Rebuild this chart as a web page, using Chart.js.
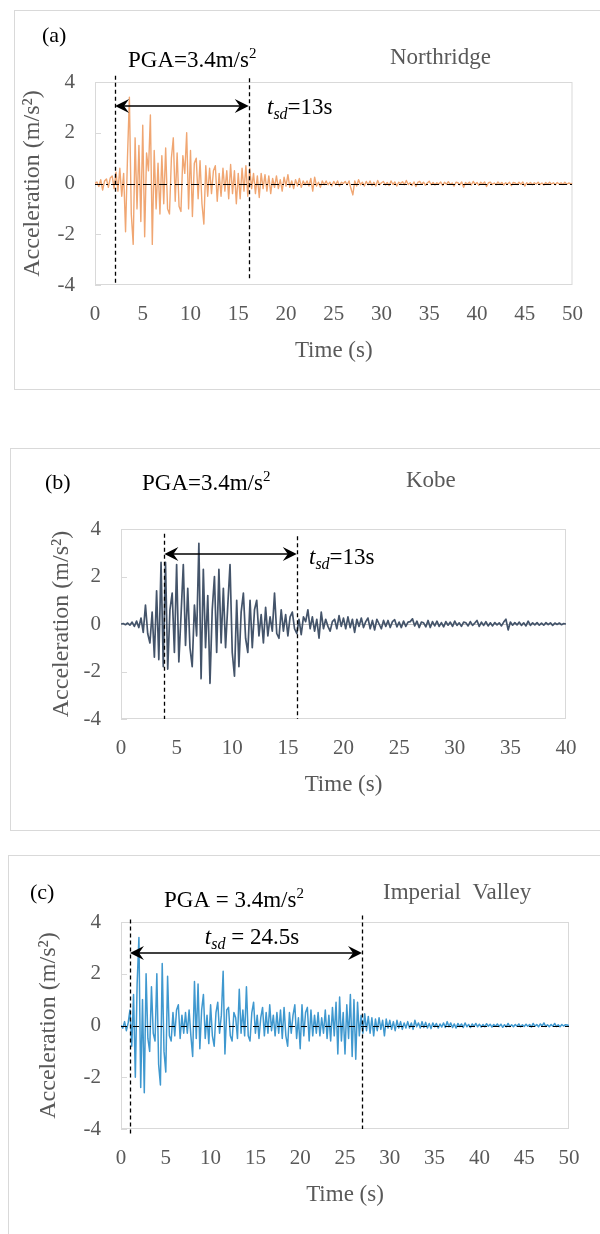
<!DOCTYPE html>
<html>
<head>
<meta charset="utf-8">
<script src="https://cdn.jsdelivr.net/npm/chart.js@4.4.0/dist/chart.umd.min.js"></script>
<style>
  body { margin: 0; background: #fff; width: 600px; height: 1234px; overflow: hidden; position: relative; }
  .frame { position: absolute; border: 1.5px solid #d9d9d9; box-sizing: border-box; }
  canvas { position: absolute; left: 0; }
</style>
</head>
<body>
<div class="frame" style="left:14px;top:10px;width:620px;height:380px"></div>
<div class="frame" style="left:10px;top:448px;width:620px;height:383px"></div>
<div class="frame" style="left:8px;top:855px;width:620px;height:420px"></div>
<canvas id="chartA" width="600" height="400" style="top:0"></canvas>
<canvas id="chartB" width="600" height="440" style="top:400px"></canvas>
<canvas id="chartC" width="600" height="394" style="top:840px"></canvas>
<script>
// sample spacing of the records (s)
const DT = 0.2;

// Northridge, 0-50 s, m/s^2
const northridgeAcc = [
  0.00, 0.06, -0.12, 0.15, -0.26, 0.10, 0.18, -0.15, 0.22, 0.30,
  -0.20, 0.45, -0.30, 0.60, -0.50, 0.40, -1.90, 1.00, 3.40, -1.20,
  -2.40, 1.80, -1.00, 1.50, -1.50, 2.30, -2.10, 1.20, 0.50, 2.70,
  -2.40, 1.30, -1.00, 0.80, -1.20, 1.10, -0.80, 1.40, -1.00, -1.20,
  1.00, 1.80, -0.70, 1.20, -0.90, -1.10, 1.10, 0.40, 2.00, -1.00,
  1.30, -1.30, 0.80, 1.00, -0.60, 0.90, -0.80, -1.60, 0.70, -0.50,
  0.60, -0.40, 0.50, 0.70, -0.70, 0.40, -0.50, 0.60, -0.30, 0.50,
  -0.60, 0.75, -0.40, 0.50, -0.80, 0.40, -0.60, 0.60, -0.30, 0.70,
  -0.50, 0.60, -0.20, 0.40, -0.40, 0.30, -0.55, 0.40, -0.20, 0.35,
  -0.30, 0.30, -0.40, 0.20, -0.15, 0.30, -0.20, 0.15, -0.30, 0.25,
  -0.10, 0.35, -0.15, 0.10, -0.20, 0.15, -0.10, 0.20, -0.15, 0.10,
  -0.05, 0.10, -0.10, 0.20, -0.30, 0.25, -0.10, 0.05, -0.15, 0.10,
  -0.05, 0.10, -0.05, 0.05, -0.10, 0.08, -0.05, 0.10, -0.10, 0.05,
  0.00, 0.08, -0.05, 0.10, -0.20, -0.45, 0.10, -0.10, 0.15, -0.05,
  0.05, -0.10, 0.08, -0.05, 0.10, -0.08, 0.05, -0.10, 0.12, -0.05,
  0.03, 0.08, -0.06, 0.04, -0.08, 0.10, -0.04, 0.06, -0.10, 0.05,
  0.00, 0.07, -0.05, 0.12, -0.04, 0.03, -0.08, 0.06, -0.12, 0.04,
  0.08, -0.03, 0.05, -0.07, 0.02, 0.09, -0.05, 0.04, -0.06, 0.03,
  -0.02, 0.06, -0.08, 0.05, -0.03, 0.07, -0.04, 0.02, -0.10, 0.05,
  0.03, -0.05, 0.06, -0.15, 0.04, -0.02, 0.05, -0.06, 0.08, -0.03,
  0.04, -0.07, 0.05, -0.02, 0.06, -0.12, 0.03, 0.05, -0.04, 0.02,
  -0.05, 0.06, -0.03, 0.04, -0.06, 0.03, -0.02, 0.05, -0.08, 0.04,
  0.02, -0.04, 0.05, -0.03, 0.06, -0.10, 0.03, -0.02, 0.04, -0.05,
  0.03, -0.02, 0.05, -0.04, 0.02, -0.06, 0.04, -0.03, 0.05, -0.02,
  0.03, -0.05, 0.04, -0.02, 0.03, -0.04, 0.05, -0.03, 0.02, -0.01,
  0.00
];

// Kobe, 0-40 s
const kobeAcc = [
  0.00, 0.02, -0.03, 0.04, -0.05, 0.08, -0.10, 0.12, -0.15, 0.25,
  -0.35, 0.80, -0.40, -0.80, 0.50, -1.40, 1.40, -1.50, 2.60, -1.80,
  2.60, -1.90, 0.60, 1.30, -1.20, 2.50, -1.60, 0.40, 2.50, -0.90,
  1.50, -1.00, -1.80, 0.80, -0.50, 3.40, -2.30, 2.30, -1.00, 1.20,
  -2.50, 0.60, 2.00, -1.20, 2.30, -0.80, 1.50, -1.00, 0.80, 2.50,
  -1.20, -2.20, 1.00, -1.80, 0.50, 1.30, -0.60, -1.20, 1.00, -1.00,
  0.60, 1.00, -0.50, 0.40, -0.80, 0.70, -0.50, 0.30, -0.30, 1.30,
  -0.40, -0.60, 0.60, -0.30, 0.40, -0.50, 0.30, 0.50, -0.20, -0.40,
  0.20, -0.45, 0.30, 0.10, 0.60, -0.20, 0.30, -0.30, 0.20, -0.60,
  0.50, -0.20, 0.20, -0.10, -0.30, 0.10, 0.20, -0.20, 0.35, -0.10,
  0.25, -0.20, 0.30, -0.15, 0.20, -0.35, 0.20, -0.10, 0.25, -0.15,
  0.10, 0.25, -0.20, 0.15, -0.25, 0.20, 0.00, -0.20, 0.15, -0.10,
  0.15, -0.15, 0.10, 0.18, -0.12, 0.08, -0.15, 0.12, -0.10, 0.08,
  0.10, 0.22, -0.08, 0.12, -0.15, 0.08, 0.05, -0.12, 0.15, -0.15,
  0.10, -0.08, 0.12, -0.10, 0.06, -0.12, 0.10, -0.05, 0.08, -0.10,
  0.12, -0.06, 0.05, -0.10, 0.08, 0.05, -0.08, 0.10, -0.06, 0.04,
  0.15, -0.10, 0.08, -0.06, 0.10, -0.08, 0.05, -0.08, 0.06, -0.04,
  0.05, -0.08, 0.08, 0.20, -0.25, 0.08, -0.05, 0.06, -0.04, 0.08,
  -0.06, 0.05, -0.08, 0.12, -0.06, 0.05, -0.04, 0.06, -0.05, 0.04,
  -0.05, 0.06, -0.03, 0.05, -0.06, 0.04, -0.02, 0.04, -0.03, 0.02,
  0.00
];

// Imperial Valley, 0-50 s
const imperialAcc = [
  0.00, -0.10, 0.15, -0.20, 0.10, 0.60, -0.80, 1.20, -2.00, 1.60,
  3.40, -2.40, 1.00, -2.60, 2.00, -0.50, -1.00, 1.50, -0.30, -0.60,
  2.00, -1.50, -2.30, 2.40, -1.00, -1.80, 1.90, -0.40, -0.60, 0.50,
  -0.40, 0.60, 0.80, -0.50, 0.40, -0.30, 0.50, -0.30, 0.60, -0.40,
  -1.20, 1.70, -0.50, 1.60, -0.90, 0.60, 1.20, -0.50, 0.40, -0.70,
  0.80, -0.40, -0.80, 0.50, 0.90, -0.30, 0.40, 2.10, -1.10, 0.60,
  0.70, -0.40, -0.60, 0.50, 0.30, -0.50, 1.40, -0.30, 0.60, -0.40,
  1.50, -0.40, -0.60, 0.50, 0.90, -0.30, 0.40, -0.50, 0.30, 0.70,
  -0.40, 0.50, -0.30, 0.80, -0.20, 0.40, -0.40, 0.50, -0.30, 0.60,
  -0.50, 0.70, -0.40, -0.80, 0.50, -0.30, 0.40, 0.80, -0.50, 0.30,
  -0.90, 0.80, -0.40, 0.50, 0.70, -0.60, 0.60, -0.40, 0.40, -0.30,
  0.50, -0.40, 0.30, -0.30, 0.60, -0.50, 0.40, -0.60, 0.70, -0.40,
  0.90, -1.10, 1.10, -0.60, 0.50, -1.10, 0.80, -0.50, 1.20, -1.20,
  1.00, -1.30, 0.90, -0.40, 0.40, -0.30, 0.45, -0.20, 0.35, -0.30,
  0.30, -0.40, 0.25, -0.20, 0.30, -0.15, 0.20, -0.40, 0.25, -0.10,
  0.20, -0.15, 0.15, -0.20, 0.20, -0.10, 0.15, -0.15, 0.10, -0.10,
  0.15, -0.10, 0.10, -0.15, 0.20, -0.05, 0.10, -0.10, 0.15, -0.08,
  0.12, -0.10, 0.08, -0.12, 0.10, -0.05, 0.08, -0.10, 0.06, -0.06,
  0.10, -0.08, 0.15, -0.05, 0.10, -0.08, 0.06, -0.10, 0.08, -0.04,
  0.06, -0.08, 0.10, -0.05, 0.04, -0.08, 0.06, -0.04, 0.08, -0.05,
  0.05, -0.06, 0.04, -0.05, 0.07, -0.03, 0.05, -0.06, 0.04, -0.03,
  0.06, -0.04, 0.05, -0.07, 0.03, -0.05, 0.08, -0.04, 0.03, -0.05,
  0.04, -0.03, 0.06, -0.05, 0.03, -0.04, 0.05, -0.03, 0.04, -0.06,
  0.08, -0.03, 0.04, -0.05, 0.06, -0.02, 0.10, -0.04, 0.03, -0.05,
  0.04, -0.03, 0.08, -0.04, 0.03, -0.05, 0.04, -0.02, 0.03, 0.02,
  0.00
];

const accTicks = [-4, -2, 0, 2, 4];
const timeTicks50 = [0, 5, 10, 15, 20, 25, 30, 35, 40, 45, 50];
const timeTicks40 = [0, 5, 10, 15, 20, 25, 30, 35, 40];

// start / end of the significant duration (s)
const durationA = [2.1, 16.1];
const durationB = [3.9, 15.8];
const durationC = [1.0, 26.9];

const SERIF = '"Liberation Serif", "Times New Roman", serif';
const GREY = '#595959';

function toPoints(values) {
  return values.map((v, i) => ({ x: Math.round(i * DT * 10) / 10, y: v }));
}

function fontOf(p) {
  return (p.italic ? 'italic ' : '') + p.size + 'px ' + SERIF;
}

// draws a run of text pieces (for sub/superscripts) starting at x
function drawRich(ctx, parts, x, base, align) {
  let w = 0;
  parts.forEach(p => { ctx.font = fontOf(p); w += ctx.measureText(p.text).width; });
  let cx = align === 'center' ? x - w / 2 : x;
  ctx.textBaseline = 'alphabetic';
  ctx.textAlign = 'left';
  parts.forEach(p => {
    ctx.font = fontOf(p);
    ctx.fillStyle = p.color || '#000';
    ctx.fillText(p.text, cx, base + (p.dy || 0));
    cx += ctx.measureText(p.text).width;
  });
}

function arrowHead(ctx, x, y, dir) {
  ctx.beginPath();
  ctx.moveTo(x, y);
  ctx.lineTo(x - dir * 14, y - 7);
  ctx.lineTo(x - dir * 9, y);
  ctx.lineTo(x - dir * 14, y + 7);
  ctx.closePath();
  ctx.fill();
}

function quakeLayer(cfg) {
  return {
    id: 'quake',
    beforeDatasetsDraw(chart) {
      const { ctx, chartArea: a, scales: { y } } = chart;
      ctx.save();
      ctx.strokeStyle = '#d9d9d9';
      ctx.lineWidth = 1;
      ctx.strokeRect(a.left + 0.5, a.top + 0.5, a.width - 1, a.height - 1);
      // short inside tick marks on the value axis
      ctx.beginPath();
      accTicks.forEach(v => {
        const py = Math.round(y.getPixelForValue(v)) + 0.5;
        ctx.moveTo(a.left, py);
        ctx.lineTo(a.left + 6, py);
      });
      ctx.stroke();
      if (!cfg.zeroDash) {
        ctx.strokeStyle = '#bfbfbf';
        ctx.beginPath();
        ctx.moveTo(a.left, Math.round(y.getPixelForValue(0)) + 0.5);
        ctx.lineTo(a.right, Math.round(y.getPixelForValue(0)) + 0.5);
        ctx.stroke();
      }
      ctx.restore();
    },
    afterDatasetsDraw(chart) {
      const { ctx, chartArea: a, scales: { x, y } } = chart;
      ctx.save();
      ctx.strokeStyle = '#000';
      ctx.fillStyle = '#000';
      if (cfg.zeroDash) {
        const y0 = Math.round(y.getPixelForValue(0)) + 0.5;
        ctx.lineWidth = 1;
        ctx.setLineDash(cfg.zeroDash);
        ctx.beginPath();
        ctx.moveTo(a.left, y0);
        ctx.lineTo(a.right, y0);
        ctx.stroke();
      }
      // significant duration markers
      ctx.lineWidth = 1.3;
      ctx.setLineDash([4, 3]);
      cfg.duration.forEach((t, i) => {
        const px = Math.round(x.getPixelForValue(t)) + 0.5;
        ctx.beginPath();
        ctx.moveTo(px, y.getPixelForValue(cfg.lineTop[i]));
        ctx.lineTo(px, y.getPixelForValue(cfg.lineBottom[i]));
        ctx.stroke();
      });
      ctx.setLineDash([]);
      const ay = y.getPixelForValue(cfg.arrowAt);
      const x1 = x.getPixelForValue(cfg.duration[0]);
      const x2 = x.getPixelForValue(cfg.duration[1]);
      ctx.lineWidth = 1.5;
      ctx.beginPath();
      ctx.moveTo(x1 + 8, ay);
      ctx.lineTo(x2 - 8, ay);
      ctx.stroke();
      arrowHead(ctx, x1, ay, -1);
      arrowHead(ctx, x2, ay, 1);
      ctx.restore();
    },
    afterDraw(chart) {
      const ctx = chart.ctx;
      ctx.save();
      cfg.texts.forEach(t => drawRich(ctx, t.parts, t.x, t.y, t.align));
      ctx.restore();
    }
  };
}

function makeChart(id, cfg) {
  new Chart(document.getElementById(id), {
    type: 'line',
    data: {
      datasets: [{
        data: toPoints(cfg.values),
        borderColor: cfg.color,
        borderWidth: cfg.lineWidth,
        borderJoinStyle: 'round',
        pointRadius: 0,
        tension: 0,
        fill: false
      }]
    },
    options: {
      responsive: false,
      animation: false,
      events: [],
      layout: { padding: cfg.padding },
      plugins: { legend: { display: false }, tooltip: { enabled: false } },
      scales: {
        x: {
          type: 'linear',
          min: 0,
          max: cfg.timeTicks[cfg.timeTicks.length - 1],
          afterBuildTicks: s => { s.ticks = cfg.timeTicks.map(v => ({ value: v })); },
          afterFit: s => { s.height = 80; },
          grid: { display: false, drawTicks: false },
          border: { display: false },
          ticks: { color: GREY, padding: 17, maxRotation: 0, font: { family: SERIF, size: 21 } },
          title: { display: true, text: 'Time (s)', color: GREY, padding: { top: 4, bottom: 0 },
                   font: { family: SERIF, size: 23 } }
        },
        y: {
          min: -4,
          max: 4,
          afterBuildTicks: s => { s.ticks = accTicks.map(v => ({ value: v })); },
          afterFit: s => { s.width = cfg.yWidth; },
          grid: { display: false, drawTicks: false },
          border: { display: false },
          ticks: { color: GREY, padding: 20, font: { family: SERIF, size: 21 } },
          title: { display: true, text: 'Acceleration (m/s\u00b2)', color: GREY, padding: { top: 4, bottom: 4 },
                   font: { family: SERIF, size: 24 } }
        }
      }
    },
    plugins: [quakeLayer(cfg)]
  });
}

function pgaText(label, x, y) {
  return { x, y, parts: [
    { text: label, size: 23 },
    { text: '2', size: 15, dy: -9 }
  ] };
}

function tsdText(value, x, y, align) {
  return { x, y, align, parts: [
    { text: 't', size: 23, italic: true },
    { text: 'sd', size: 16, italic: true, dy: 5 },
    { text: value, size: 23 }
  ] };
}

makeChart('chartA', {
  values: northridgeAcc,
  color: '#F0A672',
  lineWidth: 1.4,
  timeTicks: timeTicks50,
  padding: { left: 14, right: 24, top: 82, bottom: 35 },
  yWidth: 81,
  zeroDash: [8, 3, 2, 3],
  duration: durationA,
  lineTop: [4.25, 4.15],
  lineBottom: [-4, -3.8],
  arrowAt: 3.05,
  texts: [
    { x: 42, y: 42, parts: [{ text: '(a)', size: 22 }] },
    pgaText('PGA=3.4m/s', 128, 67),
    { x: 390, y: 64, parts: [{ text: 'Northridge', size: 23, color: GREY }] },
    tsdText('=13s', 267, 114)
  ]
});

makeChart('chartB', {
  values: kobeAcc,
  color: '#44546A',
  lineWidth: 1.7,
  timeTicks: timeTicks40,
  padding: { left: 43, right: 34, top: 129, bottom: 41 },
  yWidth: 78,
  zeroDash: null,
  duration: durationB,
  lineTop: [3.8, 3.7],
  lineBottom: [-4, -4],
  arrowAt: 2.95,
  texts: [
    { x: 45, y: 489, parts: [{ text: '(b)', size: 22 }] },
    pgaText('PGA=3.4m/s', 142, 490),
    { x: 406, y: 487, parts: [{ text: 'Kobe', size: 23, color: GREY }] },
    tsdText('=13s', 309, 564)
  ].map(t => Object.assign({}, t, { y: t.y - 400 }))
});

makeChart('chartC', {
  values: imperialAcc,
  color: '#3F98CF',
  lineWidth: 1.5,
  timeTicks: timeTicks50,
  padding: { left: 30, right: 31, top: 82, bottom: 25 },
  yWidth: 91,
  zeroDash: [6, 6],
  duration: durationC,
  lineTop: [4.1, 4.25],
  lineBottom: [-4.2, -4],
  arrowAt: 2.8,
  texts: [
    { x: 30, y: 899, parts: [{ text: '(c)', size: 22 }] },
    pgaText('PGA = 3.4m/s', 164, 907),
    { x: 383, y: 899, parts: [{ text: 'Imperial  Valley', size: 23, color: GREY }] },
    tsdText(' = 24.5s', 252, 944, 'center')
  ].map(t => Object.assign({}, t, { y: t.y - 840 }))
});
</script>
</body>
</html>
